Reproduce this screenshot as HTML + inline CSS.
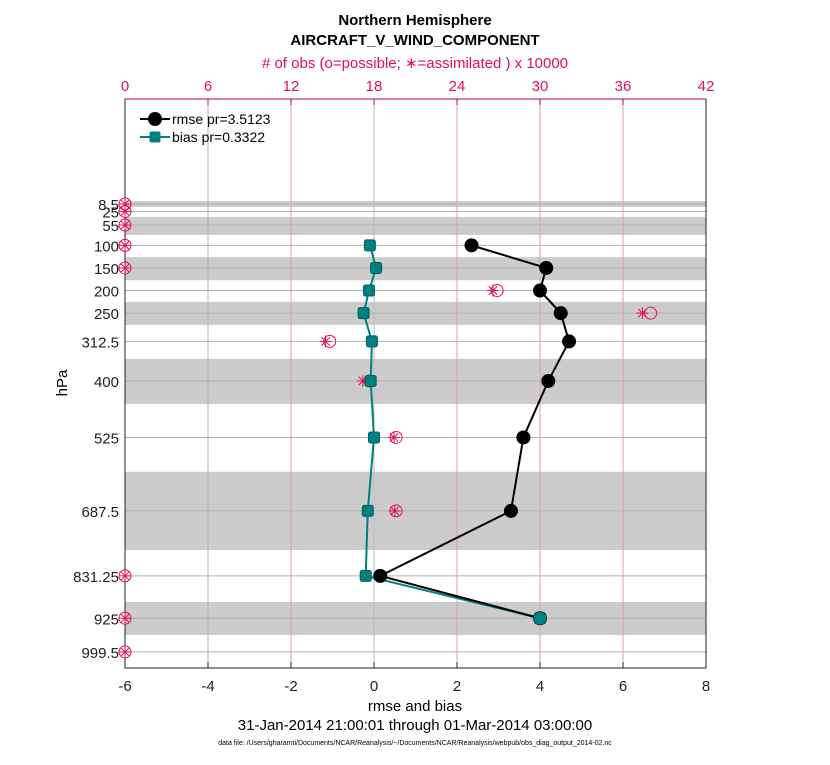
<!DOCTYPE html>
<html><head><meta charset="utf-8"><style>
body{margin:0;background:#fff;font-family:"Liberation Sans",sans-serif;}
</style></head><body>
<svg id="c" width="830" height="760" xmlns="http://www.w3.org/2000/svg" font-family="Liberation Sans, sans-serif"></svg>
<script>
const levels=[8.5,25,55,100,150,200,250,312.5,400,525,687.5,831.25,925,999.5];
const levelLabels=["8.5","25","55","100","150","200","250","312.5","400","525","687.5","831.25","925","999.5"];
const rmseLevels=[100,150,200,250,312.5,400,525,687.5,831.25,925];
const rmseVals=[2.35,4.15,4.0,4.5,4.7,4.2,3.6,3.3,0.15,4.0];
const biasVals=[-0.1,0.05,-0.12,-0.25,-0.05,-0.08,0.0,-0.15,-0.2,4.0];
const obsPossible=[0,0,0,0,0,26.9,38.0,14.8,17.7,19.6,19.6,0,0,0];
const obsAssim=[0,0,0,0,0,26.6,37.4,14.5,17.2,19.45,19.5,0,0,0];
const bands=[[2,15],[37,77],[126,177],[225,276],[351,451],[601,774],[889,962]];
const xTicks=[-6,-4,-2,0,2,4,6,8];
const topTicks=[0,6,12,18,24,30,36,42];
const L=125,R=706,T=99,B=668;
const X=v=>L+(v+6)/14*(R-L);
const XT=v=>L+v/42*(R-L);
const Y=p=>204+(p-8.5)*0.452;
const s=document.getElementById('c');const NS="http://www.w3.org/2000/svg";
function el(t,a,txt){const e=document.createElementNS(NS,t);for(const k in a)e.setAttribute(k,a[k]);if(txt!==undefined)e.textContent=txt;s.appendChild(e);return e;}
bands.forEach(b=>{const e=el('rect',{x:L,y:Y(b[0]),width:R-L,height:Y(b[1])-Y(b[0]),fill:'#cccccc'});

});
levels.forEach((p,i)=>{const e=el('line',{x1:L,x2:R,y1:Y(p),y2:Y(p),stroke:'#b0b0b0','stroke-width':1});


const t=el('text',{x:L-6,y:Y(p)+6,'text-anchor':'end','font-size':15,fill:'#222'},levelLabels[i]);

});
topTicks.forEach(v=>{if(v>0&&v<42){const e=el('line',{x1:XT(v),x2:XT(v),y1:T,y2:B,stroke:v==18?'#bbb':'#d9a0b0','stroke-width':1});

}
const t=el('text',{x:XT(v),y:91,'text-anchor':'middle','font-size':15,fill:'#e0105a'},String(v));


el('line',{x1:XT(v),x2:XT(v),y1:T,y2:T+6,stroke:'#c00040'});});
xTicks.forEach(v=>{const t=el('text',{x:X(v),y:691,'text-anchor':'middle','font-size':15,fill:'#222'},String(v));


el('line',{x1:X(v),x2:X(v),y1:B,y2:B-6,stroke:'#222'});});
el('rect',{x:L,y:T,width:R-L,height:B-T,fill:'none',stroke:'#222','stroke-width':1});
el('line',{x1:L,x2:R,y1:T,y2:T,stroke:'#c00040'});
levels.forEach((p,i)=>{const cx=XT(obsPossible[i]),cy=Y(p);
const c=el('circle',{cx:cx,cy:cy,r:6,fill:'none',stroke:'#e0105a','stroke-width':1});


const ax=XT(obsAssim[i]);
const g=el('g',{stroke:'#e0105a','stroke-width':1});


[[-6,0,6,0],[0,-6,0,6],[-4.2,-4.2,4.2,4.2],[-4.2,4.2,4.2,-4.2]].forEach(d=>{const l=document.createElementNS(NS,'line');l.setAttribute('x1',ax+d[0]);l.setAttribute('y1',cy+d[1]);l.setAttribute('x2',ax+d[2]);l.setAttribute('y2',cy+d[3]);g.appendChild(l);});});
const bp=el('polyline',{points:rmseLevels.map((p,i)=>X(biasVals[i])+','+Y(p)).join(' '),fill:'none',stroke:'#008080','stroke-width':2});


const rp=el('polyline',{points:rmseLevels.map((p,i)=>X(rmseVals[i])+','+Y(p)).join(' '),fill:'none',stroke:'#000','stroke-width':2});


rmseLevels.forEach((p,i)=>{const m=el('rect',{x:X(biasVals[i])-5.5,y:Y(p)-5.5,width:11,height:11,rx:2,fill:'#008080',stroke:'#006060'});


const c=el('circle',{cx:X(rmseVals[i]),cy:Y(p),r:7,fill:'#000'});

});
el('circle',{cx:X(4),cy:Y(925),r:6.5,fill:'#008080'});
el('line',{x1:140,x2:170,y1:119,y2:119,stroke:'#000','stroke-width':2});
el('circle',{cx:155,cy:119,r:7,fill:'#000'});
el('line',{x1:140,x2:170,y1:137,y2:137,stroke:'#008080','stroke-width':2});
el('rect',{x:149.5,y:131.5,width:11,height:11,rx:2,fill:'#008080'});
const l1=el('text',{x:172,y:124,'font-size':14,fill:'#000'},'rmse pr=3.5123');


const l2=el('text',{x:172,y:142,'font-size':14,fill:'#000'},'bias pr=0.3322');


const t1=el('text',{x:415,y:25,'text-anchor':'middle','font-size':15,'font-weight':'bold'},'Northern Hemisphere');


const t2=el('text',{x:415,y:45,'text-anchor':'middle','font-size':15,'font-weight':'bold'},'AIRCRAFT_V_WIND_COMPONENT');


const t3=el('text',{x:415,y:68,'text-anchor':'middle','font-size':15,fill:'#e0105a'},'# of obs (o=possible; \u2217=assimilated ) x 10000');


const t4=el('text',{x:415,y:711,'text-anchor':'middle','font-size':15},'rmse and bias');


const t5=el('text',{x:415,y:730,'text-anchor':'middle','font-size':15},'31-Jan-2014 21:00:01 through 01-Mar-2014 03:00:00');


const t6=el('text',{x:415,y:745,'text-anchor':'middle','font-size':7},'data file: /Users/gharamti/Documents/NCAR/Reanalysis/~/Documents/NCAR/Reanalysis/webpub/obs_diag_output_2014-02.nc');


const t7=el('text',{x:67,y:383,'text-anchor':'middle','font-size':15,transform:'rotate(-90 67 383)'},'hPa');


</script>
</body></html>
